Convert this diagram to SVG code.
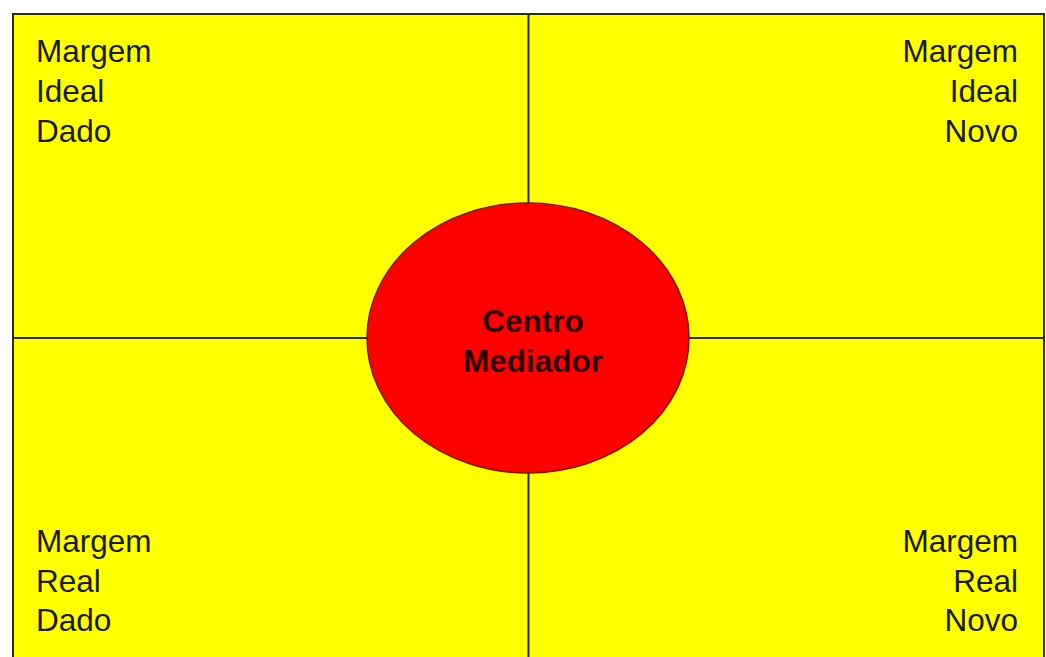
<svg xmlns="http://www.w3.org/2000/svg" width="1046" height="657" viewBox="0 0 1046 657">
<style>
.t{font-family:"Liberation Sans",Arial,sans-serif;font-size:31.5px;fill:#1a1a1a}
.r{text-anchor:end}
.c{text-anchor:middle;font-weight:bold;fill:#2a0000}
.ln{stroke:#2b2b1a;stroke-width:2;fill:none}
.box{stroke:#2b2b1a;stroke-width:2;fill:#ffff00}
</style>
<rect width="1046" height="657" fill="#ffffff"/>
<g id="frame">
<rect class="box" x="13" y="14" width="1031" height="660"/>
</g>
<g id="connectors">
<line class="ln" x1="528.5" y1="14" x2="528.5" y2="657"/>
<line class="ln" x1="13" y1="338" x2="1044" y2="338"/>
</g>
<g id="q1">
<text class="t" x="36" y="62">Margem</text>
<text class="t" x="36" y="102">Ideal</text>
<text class="t" x="36" y="142">Dado</text>
</g>
<g id="q2">
<text class="t r" x="1018" y="62">Margem</text>
<text class="t r" x="1018" y="102">Ideal</text>
<text class="t r" x="1018" y="142">Novo</text>
</g>
<g id="q3">
<text class="t" x="36" y="552">Margem</text>
<text class="t" x="36" y="592">Real</text>
<text class="t" x="36" y="631">Dado</text>
</g>
<g id="q4">
<text class="t r" x="1018" y="552">Margem</text>
<text class="t r" x="1018" y="592">Real</text>
<text class="t r" x="1018" y="631">Novo</text>
</g>
<g id="centro">
<ellipse cx="528" cy="338" rx="161" ry="135" fill="#ff0000" stroke="#7a1a00" stroke-width="1.5"/>
<text class="t c" x="533" y="332">Centro</text>
<text class="t c" x="533" y="372">Mediador</text>
</g>
</svg>
